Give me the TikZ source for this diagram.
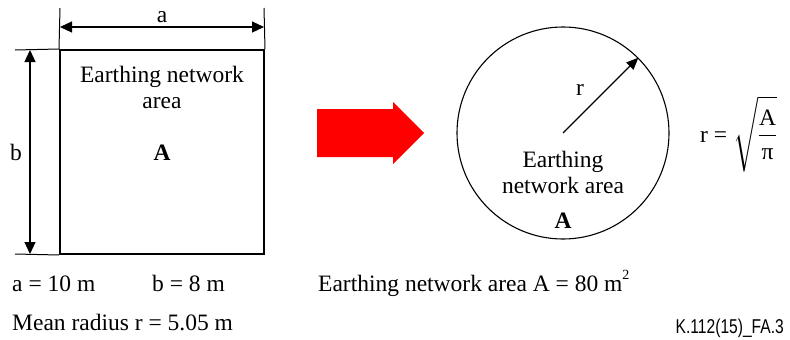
\documentclass[tikz,border=0pt]{standalone}
\usepackage{amsmath}
\usepackage{fontspec}
\setmainfont{Liberation Serif}
\setsansfont{Liberation Sans}
\usetikzlibrary{arrows.meta}
\tikzset{
  txt/.style={inner sep=0pt, font=\fontsize{23.5}{26}\selectfont},
  dimarrow/.style={line width=1.2pt, {Triangle[length=12pt,width=11pt]}-{Triangle[length=12pt,width=11pt]}},
  extline/.style={line width=1pt},
}
\begin{document}
\begin{tikzpicture}[x=1pt,y=-1pt]
\useasboundingbox (0,0) rectangle (790,340);
% left square
\node[draw, line width=2pt, minimum width=204pt, minimum height=204pt, inner sep=0pt] (sq) at (162,152) {};
\node[txt, align=center, anchor=base] (sqtxt) at (162,108) {Earthing network\\area};
\node[txt, anchor=base] (sqA) at (162,160) {\textbf{A}};
% dimension a
\coordinate (ea1) at (60,8);
\coordinate (ea2) at (264,8);
\draw[extline] (ea1) -- (sq.north west);
\draw[extline] (ea2) -- (sq.north east);
\coordinate (da1) at (60,27);
\coordinate (da2) at (264,27);
\draw[dimarrow] (da1) -- (da2);
\node[txt, anchor=base] (la) at (162,23) {a};
% dimension b
\coordinate (eb1) at (15,50);
\coordinate (eb2) at (15,254);
\draw[extline] (eb1) -- (sq.north west);
\draw[extline] (eb2) -- (sq.south west);
\coordinate (db1) at (30,50);
\coordinate (db2) at (30,254);
\draw[dimarrow] (db1) -- (db2);
\node[txt, anchor=base] (lb) at (16,160) {b};
% red arrow
\fill[red] (317,109) -- (393,109) -- (393,102) -- (424,133) -- (393,164) -- (393,157) -- (317,157) -- cycle;
% circle
\node[draw, circle, line width=1.1pt, minimum size=212pt, inner sep=0pt] (circ) at (563,133) {};
\coordinate (cc) at (563,133);
\draw[line width=1.2pt, -{Triangle[length=12pt,width=10pt]}] (cc) -- (circ.45);
\node[txt, anchor=base] (lr) at (580,95) {r};
\node[txt, align=center, anchor=base] (ctxt) at (563,193) {Earthing\\network area};
\node[txt, anchor=base] (cA) at (563,228) {\textbf{A}};
% formula
\node[txt, anchor=west] (form) at (700,134) {r = $\sqrt{\dfrac{\rule{0pt}{19pt}\text{A}}{\text{π}\rule[-6pt]{0pt}{6pt}}}$};
% bottom texts
\node[txt, anchor=base west] (ta) at (12,291) {a = 10 m};
\node[txt, anchor=base west] (tb) at (152,291) {b = 8 m};
\node[txt, anchor=base west] (tarea) at (318,291) {Earthing network area A = 80 m\raisebox{0.5em}{\fontsize{14}{14}\selectfont 2}};
\node[txt, anchor=base west] (tmean) at (12,330) {Mean radius r = 5.05 m};
\node[inner sep=0pt, anchor=base east, font=\sffamily\fontsize{20}{20}\selectfont] (tk) at (784,333) {\scalebox{0.78}[1]{K.112(15)\_FA.3}};
\end{tikzpicture}
\end{document}
